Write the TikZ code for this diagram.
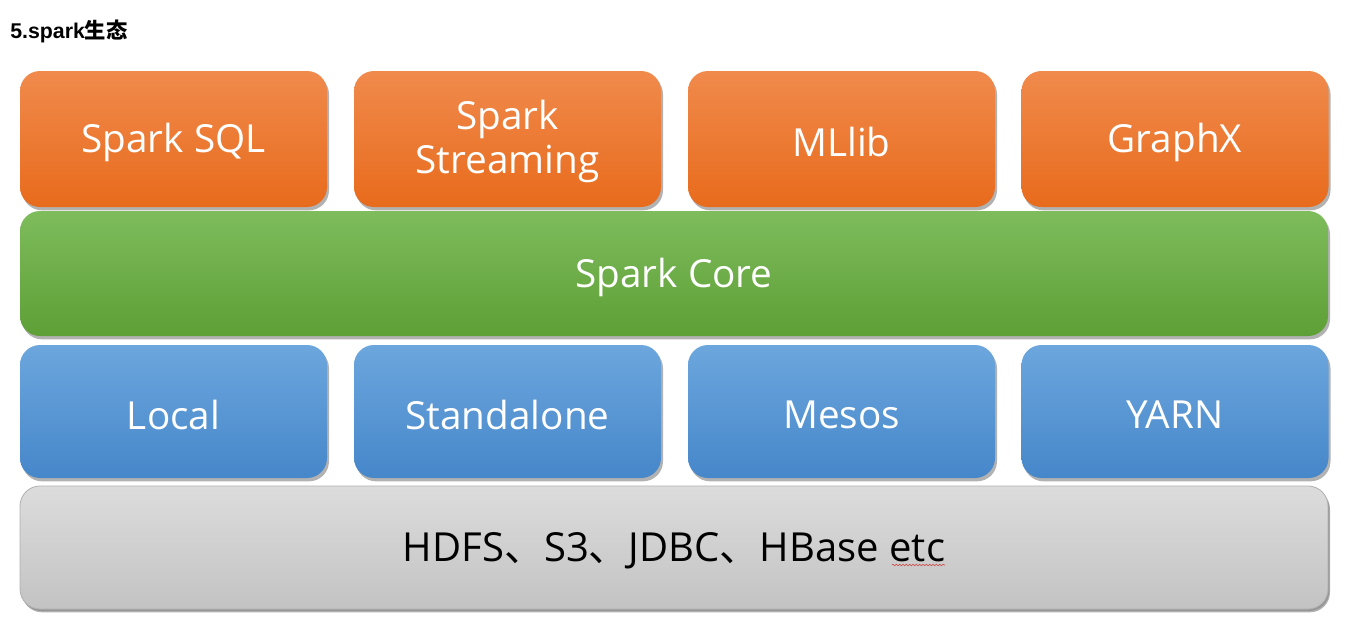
\documentclass[tikz,border=0pt]{standalone}
\usepackage{fontspec}
\setmainfont{Open Sans}
\newfontfamily\cjk{Noto Sans CJK SC}
\newfontfamily\titlefont{Liberation Sans}
\usetikzlibrary{shadows,decorations.pathmorphing}
\newcommand{\lowtx}[1]{\raisebox{-2.6pt}[\height][\depth]{#1}}
\begin{document}
\begin{tikzpicture}[x=0.75pt,y=-0.75pt,
  box/.style={rounded corners=15pt, inner sep=0pt, align=center, text=white,
    font=\fontsize{29}{34}\selectfont,
    drop shadow={shadow xshift=1.5pt, shadow yshift=-2.5pt, opacity=0.3, fill=black}},
  orangebox/.style={box, minimum width=230.25pt, minimum height=102pt,
    top color=orangeT, bottom color=orangeB},
  greenbox/.style={box, minimum width=981pt, minimum height=93.75pt,
    top color=greenT, bottom color=greenB},
  bluebox/.style={box, minimum width=230.25pt, minimum height=99.75pt,
    top color=blueT, bottom color=blueB},
  graybox/.style={box, minimum width=981pt, minimum height=92.25pt,
    top color=grayT, bottom color=grayB, draw=grayE, line width=0.6pt, text=black,
    font=\fontsize{30}{35}\selectfont,
    drop shadow={shadow xshift=1pt, shadow yshift=-1.5pt, opacity=0.15, fill=black}}
]
\definecolor{orangeT}{HTML}{F08A4C}
\definecolor{orangeB}{HTML}{E86B1C}
\definecolor{greenT}{HTML}{7EBC5C}
\definecolor{greenB}{HTML}{5E9F36}
\definecolor{blueT}{HTML}{6CA6DD}
\definecolor{blueB}{HTML}{4687CA}
\definecolor{grayT}{HTML}{DCDCDC}
\definecolor{grayB}{HTML}{C3C3C3}
\definecolor{grayE}{HTML}{B0B0B0}
\definecolor{squig}{HTML}{D04040}
\useasboundingbox[fill=white] (0,0) rectangle (1346,626);

\node[anchor=west, inner sep=0pt, font=\titlefont\bfseries\fontsize{16}{18}\selectfont] (title) at (10,31) {5.spark{\cjk\bfseries 生态}};

\node[orangebox] (sql) at (173.5,139) {\lowtx{Spark SQL}};
\node[orangebox] (stream) at (507.5,139) {\lowtx{\begin{tabular}{@{}c@{}}Spark\\[-0.5pt]Streaming\end{tabular}}};
\node[orangebox] (mllib) at (841.5,139) {\lowtx{MLlib}};
\node[orangebox] (graphx) at (1175,139) {\lowtx{GraphX}};

\node[greenbox] (core) at (674,273.5) {\lowtx{Spark Core}};

\node[bluebox] (local) at (173.5,411.5) {\lowtx{Local}};
\node[bluebox] (standalone) at (507.5,411.5) {\lowtx{Standalone}};
\node[bluebox] (mesos) at (841.5,411.5) {\lowtx{Mesos}};
\node[bluebox] (yarn) at (1175,411.5) {\lowtx{YARN}};

\node[graybox] (storage) at (674,547.5) {\lowtx{HDFS{\cjk 、}S3{\cjk 、}JDBC{\cjk 、}HBase etc}};

\coordinate (sqA) at (892,565);
\coordinate (sqB) at (945,565);
\draw[squig, line width=0.4pt, decorate, decoration={snake, amplitude=0.6pt, segment length=2.5pt}] (sqA) -- (sqB);
\end{tikzpicture}
\end{document}
